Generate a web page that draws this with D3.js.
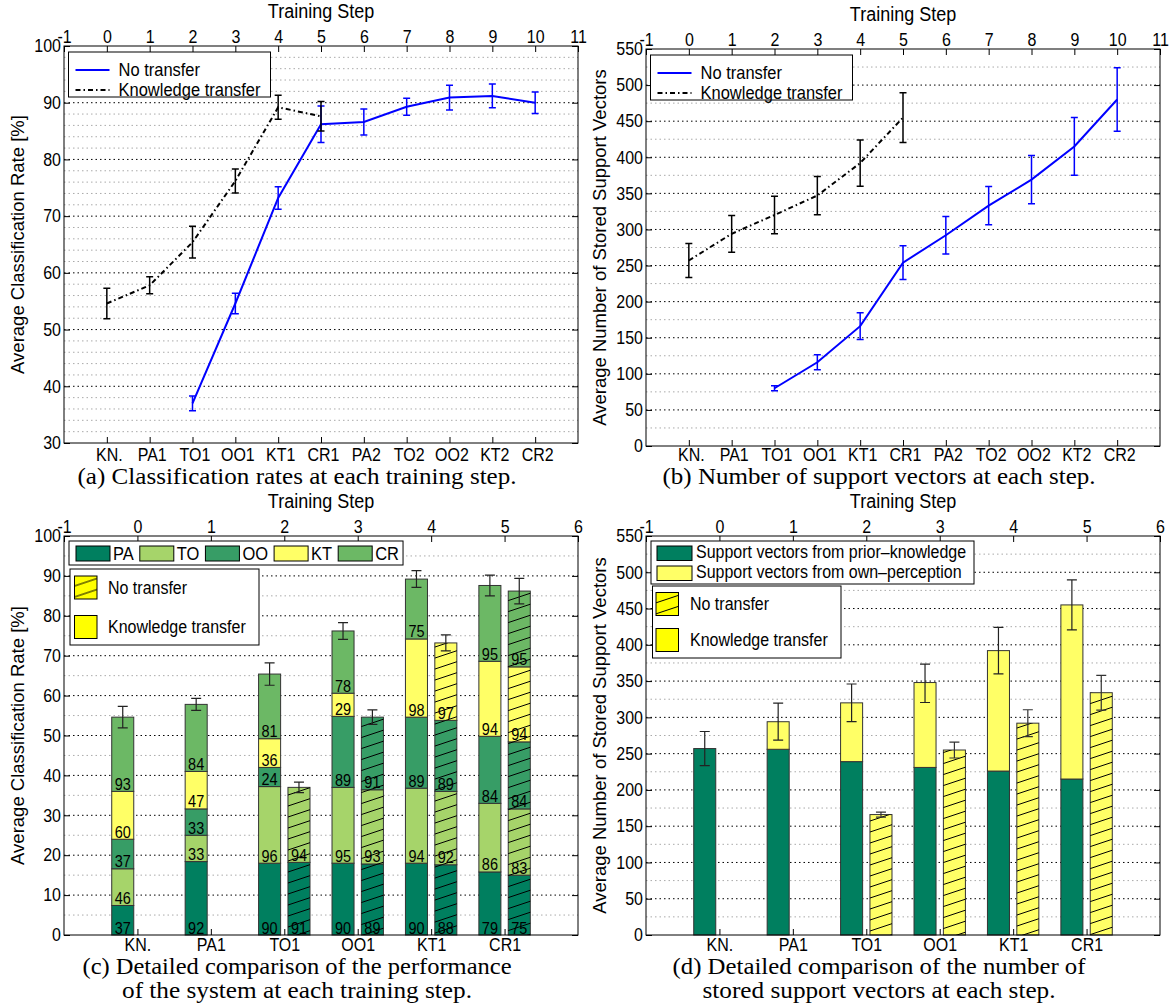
<!DOCTYPE html>
<html>
<head>
<meta charset="utf-8">
<script src="https://cdn.jsdelivr.net/npm/d3@7"></script>
<style>
  body { margin: 0; background: #fff; }
  svg text { font-family: 'Liberation Sans', Arial, sans-serif; }
  svg text.cap { font-family: 'Liberation Serif', 'DejaVu Serif', serif; }
</style>
</head>
<body>
<svg id="fig" width="1172" height="1008"></svg>
<script>
// ---- data ----
const steps = ['KN.', 'PA1', 'TO1', 'OO1', 'KT1', 'CR1', 'PA2', 'TO2', 'OO2', 'KT2', 'CR2']

// (a) average classification rate [%]
const rateKT = [54.6, 57.8, 65.4, 76.2, 89.2, 87.6]
const rateKTErr = [2.7, 1.5, 2.8, 2.1, 2.1, 2.6]
const rateNT = [null, null, 37.0, 54.6, 73.2, 86.2, 86.6, 89.3, 90.9, 91.2, 90.0]
const rateNTErr = [null, null, 1.3, 1.8, 2.0, 3.2, 2.3, 1.5, 2.2, 2.1, 1.9]

// (b) average number of stored support vectors
const svKT = [257, 294, 320, 347, 392, 455]
const svKTErr = [23.5, 25.5, 26, 26.5, 32, 34.5]
const svNT = [null, null, 80, 116, 166, 254, 292, 333, 369, 415, 480]
const svNTErr = [null, null, 3.5, 10.5, 18.5, 23.5, 26, 26.5, 33.5, 40, 44]

// (c) per-class accuracy [%], each class adds acc / 5 to the average
const classes = ['PA', 'TO', 'OO', 'KT', 'CR']
const classColors = ['#007f5f', '#a6d46a', '#379d66', '#ffff66', '#6cb865']
const accKT = [
  [37, 46, 37, 60, 93],
  [92, 33, 33, 47, 84],
  [90, 96, 24, 36, 81],
  [90, 95, 89, 29, 78],
  [90, 94, 89, 98, 75],
  [79, 86, 84, 94, 95]
]
const accNT = [
  null,
  null,
  [91, 94],
  [89, 93, 91],
  [88, 92, 89, 97],
  [75, 83, 84, 94, 95]
]

// (d) support vectors split by origin
const svPrior = [257, 256, 239, 231, 226, 215]
const svOwn = [0, 38, 81, 117, 166, 240]
const svBarNT = [null, null, 166, 255, 292, 334]
const svBarNTErr = [null, null, 3.5, 11, 18.5, 24]

const svg = d3.select('#fig')

// hatch for "no transfer"
const hatch = svg.append('defs').append('pattern')
  .attr('id', 'hatch')
  .attr('patternUnits', 'userSpaceOnUse')
  .attr('width', 33)
  .attr('height', 11)
hatch.selectAll('line').data([-1, 0, 1]).enter().append('line')
  .attr('x1', 0).attr('y1', k => 11 + 11 * k)
  .attr('x2', 33).attr('y2', k => 11 * k)
  .attr('stroke', '#000')
  .attr('stroke-width', 1)

const styleAxis = (sel) => {
  sel.attr('font-family', null).attr('font-size', null)
  sel.select('.domain').remove()
  sel.selectAll('line').attr('stroke', '#000')
  sel.selectAll('text').attr('font-size', 16).attr('fill', '#000')
}

const makePanel = (cfg) => {
  const g = svg.append('g')
  const x = d3.scaleLinear().domain(cfg.xDomain).range([cfg.left, cfg.right])
  const y = d3.scaleLinear().domain(cfg.yDomain).range([cfg.bottom, cfg.top])
  const [y0, y1] = cfg.yDomain
  const majors = d3.range(y0, y1 + 1e-6, cfg.major)
  const minors = d3.range(y0, y1 + 1e-6, cfg.minor)
    .filter(v => Math.abs(v / cfg.major - Math.round(v / cfg.major)) > 1e-6)

  const grid = g.append('g')
  grid.selectAll('line.minor').data(minors).enter().append('line')
    .attr('x1', cfg.left).attr('x2', cfg.right)
    .attr('y1', d => y(d)).attr('y2', d => y(d))
    .attr('stroke', '#aaa')
    .attr('stroke-dasharray', '1.5,3')
  grid.selectAll('line.major').data(majors.filter(v => v > y0 && v < y1)).enter().append('line')
    .attr('x1', cfg.left).attr('x2', cfg.right)
    .attr('y1', d => y(d)).attr('y2', d => y(d))
    .attr('stroke', '#000')
    .attr('stroke-dasharray', '1.5,3')

  const content = g.append('g')
  const axes = g.append('g')
  const legend = g.append('g')

  axes.append('rect')
    .attr('x', cfg.left).attr('y', cfg.top)
    .attr('width', cfg.right - cfg.left).attr('height', cfg.bottom - cfg.top)
    .attr('fill', 'none').attr('stroke', '#000')

  axes.append('g').attr('transform', `translate(0,${cfg.top})`)
    .call(d3.axisTop(x).tickValues(d3.range(cfg.xDomain[0], cfg.xDomain[1] + 1))
      .tickSize(-6).tickPadding(3).tickFormat(d => String(d)))
    .call(styleAxis)

  axes.append('g').attr('transform', `translate(${cfg.left},0)`)
    .call(d3.axisLeft(y).tickValues(majors).tickSize(-6).tickPadding(3).tickFormat(d => String(d)))
    .call(styleAxis)

  axes.append('g').attr('transform', `translate(${cfg.right},0)`)
    .call(d3.axisRight(y).tickValues(majors).tickSize(-6).tickFormat(''))
    .call(styleAxis)

  axes.append('g').attr('transform', `translate(0,${cfg.bottom})`)
    .call(d3.axisBottom(x).tickValues(d3.range(0, cfg.cats.length))
      .tickSize(-6).tickPadding(cfg.catPad).tickFormat(i => cfg.cats[i]))
    .call(styleAxis)
    .call(s => s.selectAll('text').attr('dx', cfg.catDx))

  const midX = (cfg.left + cfg.right) / 2
  axes.append('text')
    .attr('x', midX).attr('y', cfg.top - 28)
    .attr('text-anchor', 'middle').attr('font-size', 18)
    .text('Training Step')

  axes.append('text')
    .attr('class', 'ylab')
    .attr('transform', `translate(${cfg.left - 40},${(cfg.top + cfg.bottom) / 2}) rotate(-90)`)
    .attr('text-anchor', 'middle').attr('font-size', 18.5)
    .text(cfg.yLabel)

  cfg.caption.forEach((line, k) => {
    axes.append('text')
      .attr('class', 'cap')
      .attr('x', cfg.capX).attr('y', cfg.capY + 24 * k)
      .attr('text-anchor', 'middle').attr('font-size', 20)
      .attr('textLength', cfg.capW[k]).attr('lengthAdjust', 'spacingAndGlyphs')
      .text(line)
  })

  return { x, y, content, legend, cfg }
}

const drawErrors = (layer, rows, cap, color, width) => {
  layer.append('g')
    .attr('stroke', color).attr('stroke-width', width).attr('fill', 'none')
    .selectAll('path').data(rows).enter().append('path')
    .attr('d', r => `M${r.cx},${r.lo}V${r.hi}M${r.cx - cap / 2},${r.lo}H${r.cx + cap / 2}M${r.cx - cap / 2},${r.hi}H${r.cx + cap / 2}`)
}

const drawSeries = (p, vals, errs, color, dash) => {
  const pts = vals.map((v, i) => ({ i, v, e: errs[i] })).filter(d => d.v != null)
  p.content.append('path').datum(pts)
    .attr('d', d3.line().x(d => p.x(d.i)).y(d => p.y(d.v)))
    .attr('fill', 'none')
    .attr('stroke', color)
    .attr('stroke-width', 2)
    .attr('stroke-dasharray', dash)
  drawErrors(p.content, pts.map(d => ({ cx: p.x(d.i), lo: p.y(d.v - d.e), hi: p.y(d.v + d.e) })), 7, color, 1.5)
}

const lineLegend = (p) => {
  const l = p.cfg.left + 4.5
  const t = p.cfg.top + 6
  const lg = p.legend
  lg.append('rect').attr('x', l).attr('y', t).attr('width', 202).attr('height', 45)
    .attr('fill', '#fff').attr('stroke', '#000')
  const items = [
    { label: 'No transfer', color: '#0000ff', dash: null },
    { label: 'Knowledge transfer', color: '#000', dash: '5,3,1.5,3' }
  ]
  const it = lg.selectAll('g.item').data(items).enter().append('g')
    .attr('transform', (d, k) => `translate(${l},${t + 18 + 20 * k})`)
  it.append('line').attr('x1', 7).attr('x2', 41)
    .attr('stroke', d => d.color).attr('stroke-width', 2).attr('stroke-dasharray', d => d.dash)
  it.append('text').attr('x', 50).attr('y', 6).attr('font-size', 16.5).text(d => d.label)
}

const hatchLegend = (p, box) => {
  const lg = p.legend
  lg.append('rect').attr('x', box.x).attr('y', box.y).attr('width', box.w).attr('height', box.h)
    .attr('fill', '#fff').attr('stroke', '#000')
  const items = [{ label: 'No transfer', hatched: true }, { label: 'Knowledge transfer', hatched: false }]
  const it = lg.selectAll('g.hitem').data(items).enter().append('g')
    .attr('transform', (d, k) => `translate(${box.x},${box.y + box.first + box.step * k})`)
  it.append('rect').attr('x', box.px).attr('y', -11.5).attr('width', 22.5).attr('height', 23)
    .attr('fill', '#ffff00').attr('stroke', '#000')
  it.filter(d => d.hatched).append('rect').attr('x', box.px).attr('y', -11.5).attr('width', 22.5).attr('height', 23)
    .attr('fill', 'url(#hatch)')
  it.append('text').attr('x', box.tx).attr('y', 6).attr('font-size', 16).text(d => d.label)
}

const drawStack = (p, segRows, offset, hatched, labels) => {
  const w = p.x(0.3) - p.x(0)
  segRows.forEach((segs, i) => {
    if (!segs) return
    const cx = p.x(i + offset)
    const bg = p.content.append('g')
    bg.selectAll('rect.seg').data(segs).enter().append('rect')
      .attr('x', cx - w / 2).attr('width', w)
      .attr('y', s => p.y(s.hi)).attr('height', s => p.y(s.lo) - p.y(s.hi))
      .attr('fill', s => s.color)
      .attr('stroke', '#333').attr('stroke-width', 1)
    if (hatched) {
      bg.selectAll('rect.h').data(segs).enter().append('rect')
        .attr('x', cx - w / 2).attr('width', w)
        .attr('y', s => p.y(s.hi)).attr('height', s => p.y(s.lo) - p.y(s.hi))
        .attr('fill', 'url(#hatch)')
    }
    if (labels) {
      bg.selectAll('text').data(segs).enter().append('text')
        .attr('x', cx).attr('y', s => p.y(s.lo) - 1.5)
        .attr('text-anchor', 'middle').attr('font-size', 14.5)
        .text(s => s.label)
    }
  })
}

const toSegs = (accs) => {
  if (!accs) return null
  let base = 0
  return accs.map((a, k) => {
    const s = { lo: base, hi: base + a / classes.length, color: classColors[k], label: a }
    base = s.hi
    return s
  })
}

// ---- (a) ----
const pA = makePanel({
  left: 64, right: 578, top: 46, bottom: 443,
  xDomain: [-1, 11], yDomain: [30, 100], major: 10, minor: 2,
  cats: steps, catPad: 5, catDx: 2,
  yLabel: 'Average Classification Rate [%]',
  caption: ['(a) Classification rates at each training step.'],
  capX: 297, capY: 484, capW: [439]
})
drawSeries(pA, rateNT, rateNTErr, '#0000ff', null)
drawSeries(pA, rateKT, rateKTErr, '#000', '5,3,1.5,3')
lineLegend(pA)

// ---- (b) ----
const pB = makePanel({
  left: 646, right: 1160, top: 49, bottom: 446,
  xDomain: [-1, 11], yDomain: [0, 550], major: 50, minor: 25,
  cats: steps, catPad: 2, catDx: 2,
  yLabel: 'Average Number of Stored Support Vectors',
  caption: ['(b) Number of support vectors at each step.'],
  capX: 879, capY: 484, capW: [433]
})
drawSeries(pB, svNT, svNTErr, '#0000ff', null)
drawSeries(pB, svKT, svKTErr, '#000', '5,3,1.5,3')
lineLegend(pB)

// ---- (c) ----
const pC = makePanel({
  left: 64, right: 578, top: 536, bottom: 935,
  xDomain: [-1, 6], yDomain: [0, 100], major: 10, minor: 5,
  cats: steps.slice(0, 6), catPad: 3, catDx: 0,
  yLabel: 'Average Classification Rate [%]',
  caption: ['(c) Detailed comparison of the performance', 'of the system at each training step.'],
  capX: 297, capY: 974, capW: [429, 350]
})
drawStack(pC, accKT.map(toSegs), -0.2, false, true)
drawStack(pC, accNT.map(toSegs), 0.2, true, true)
drawErrors(pC.content, rateKT.map((v, i) => ({ cx: pC.x(i - 0.2), lo: pC.y(v - rateKTErr[i]), hi: pC.y(v + rateKTErr[i]) })), 10, '#222', 1.2)
drawErrors(pC.content, accNT.map((a, i) => a && { cx: pC.x(i + 0.2), lo: pC.y(rateNT[i] - rateNTErr[i]), hi: pC.y(rateNT[i] + rateNTErr[i]) }).filter(Boolean), 10, '#222', 1.2)

// class legend (c)
{
  const lg = pC.legend
  const box = lg.append('rect').attr('x', 69).attr('y', 541).attr('height', 24)
    .attr('fill', '#fff').attr('stroke', '#000')
  let cursor = 76
  classes.forEach((c, k) => {
    lg.append('rect').attr('x', cursor).attr('y', 546).attr('width', 34).attr('height', 15)
      .attr('fill', classColors[k]).attr('stroke', '#000')
    const t = lg.append('text').attr('x', cursor + 37).attr('y', 560).attr('font-size', 16.5).text(c)
    cursor += 37 + t.node().getComputedTextLength() + 6
  })
  box.attr('width', cursor - 2 - 69)
}
hatchLegend(pC, { x: 70, y: 569, w: 189, h: 76, first: 18.5, step: 39.5, px: 4.5, tx: 38 })

// ---- (d) ----
const pD = makePanel({
  left: 646, right: 1160, top: 536, bottom: 935,
  xDomain: [-1, 6], yDomain: [0, 550], major: 50, minor: 25,
  cats: steps.slice(0, 6), catPad: 3, catDx: 0,
  yLabel: 'Average Number of Stored Support Vectors',
  caption: ['(d) Detailed comparison of the number of', 'stored support vectors at each step.'],
  capX: 879, capY: 974, capW: [413, 353]
})
const svColors = ['#007f5f', '#ffff66']
const svLabels = ['Support vectors from prior\u2013knowledge', 'Support vectors from own\u2013perception']
drawStack(pD, svPrior.map((v, i) => [
  { lo: 0, hi: v, color: svColors[0] },
  { lo: v, hi: v + svOwn[i], color: svColors[1] }
].filter(s => s.hi > s.lo)), -0.2, false, false)
drawStack(pD, svBarNT.map(v => v && [{ lo: 0, hi: v, color: svColors[1] }]), 0.2, true, false)
drawErrors(pD.content, svKT.map((v, i) => ({ cx: pD.x(i - 0.2), lo: pD.y(v - svKTErr[i]), hi: pD.y(v + svKTErr[i]) })), 10, '#222', 1.2)
drawErrors(pD.content, svBarNT.map((v, i) => v && { cx: pD.x(i + 0.2), lo: pD.y(v - svBarNTErr[i]), hi: pD.y(v + svBarNTErr[i]) }).filter(Boolean), 10, '#333', 1.2)

{
  const lg = pD.legend
  lg.append('rect').attr('x', 651).attr('y', 541).attr('width', 323).attr('height', 43)
    .attr('fill', '#fff').attr('stroke', '#000')
  const it = lg.selectAll('g.sv').data(svLabels).enter().append('g')
    .attr('transform', (d, k) => `translate(657,${546 + 20 * k})`)
  it.append('rect').attr('width', 35).attr('height', 14.5)
    .attr('fill', (d, k) => svColors[k]).attr('stroke', '#000')
  it.append('text').attr('x', 39).attr('y', 12).attr('font-size', 16).text(d => d)
}
hatchLegend(pD, { x: 652.5, y: 586, w: 188.5, h: 72, first: 18, step: 36, px: 3.5, tx: 37.5 })

// the source figure is printed slightly taller than wide: stretch upright text a bit
svg.selectAll('text').filter(function () { return !this.classList.contains('ylab') })
  .each(function () {
    const t = d3.select(this)
    const tx = +t.attr('x') || 0
    const ty = +t.attr('y') || 0
    t.attr('x', 0).attr('y', 0).attr('transform', `translate(${tx},${ty}) scale(1,1.12)`)
  })
</script>
</body>
</html>
